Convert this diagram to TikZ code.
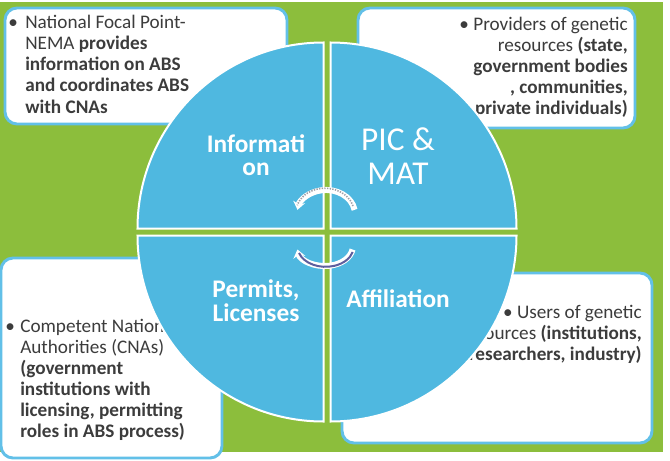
\documentclass[tikz,border=0pt]{standalone}
\usepackage{fontspec}
\setmainfont{Carlito}
\usetikzlibrary{arrows.meta}
\definecolor{leafgreen}{HTML}{8CBE3C}
\definecolor{discblue}{HTML}{4FB8E0}
\definecolor{edgeblue}{HTML}{62C0E8}
\definecolor{inkgray}{HTML}{3C3C3C}
\definecolor{bandgray}{HTML}{A0A0A8}
\definecolor{bandpurple}{HTML}{5E5E9E}

\begin{document}
\begin{tikzpicture}[
  x=0.75pt, y=-0.75pt,
  infobox/.style={draw=edgeblue, line width=2.2pt, fill=white, rounded corners=9pt},
  boxtext/.style={inner sep=0pt, text=inkgray, font=\fontsize{14.4}{15.75}\selectfont},
  quarter/.style={fill=discblue, draw=white, line width=1.5pt},
  quadlabel/.style={inner sep=0pt, text=white, font=\bfseries\fontsize{19}{17.5}\selectfont},
  turnband/.style={draw=white, line width=4.5pt}]
\useasboundingbox (0,0) rectangle (670,460);
\fill[white] (0,0) rectangle (670,460);
\fill[leafgreen] (0,2) rectangle (663,452);

\draw[infobox] (5,8) rectangle (287,124);
\draw[infobox] (358,8) rectangle (635,128);
\draw[infobox] (1,258) rectangle (222,458);
\draw[infobox] (342,273) rectangle (652,443);

\node[boxtext, anchor=base west] (focalDot) at (8,29) {\textbullet};
\node[boxtext, anchor=base west] (focalText) at (25,29)
  {\begin{tabular}[t]{@{}l@{}}National Focal Point-\\NEMA \textbf{provides}\\\textbf{information on ABS}\\\textbf{and coordinates ABS}\\\textbf{with CNAs}\end{tabular}};
\node[boxtext, anchor=base east] (providerText) at (628,31)
  {\begin{tabular}[t]{@{}r@{}}\textbullet\ Providers of genetic\\resources \textbf{(state,}\\\textbf{government bodies}\\\textbf{, communities,}\\\textbf{private individuals)}\end{tabular}};
\node[boxtext, anchor=base west] (authorityDot) at (5,332) {\textbullet};
\node[boxtext, anchor=base west] (authorityText) at (20,332)
  {\begin{tabular}[t]{@{}l@{}}Competent National\\Authorities (CNAs)\\\textbf{(government}\\\textbf{institutions with}\\\textbf{licensing, permitting}\\\textbf{roles in ABS process)}\end{tabular}};
\node[boxtext, anchor=base east] (userText) at (642,318)
  {\begin{tabular}[t]{@{}r@{}}\textbullet\ Users of genetic\\resources \textbf{(institutions,}\\\textbf{researchers, industry)}\end{tabular}};

\draw[quarter] (323.5,228.5) -- ++(-186,0) arc[start angle=180, end angle=270, radius=186] -- cycle;
\draw[quarter] (330.5,228.5) -- ++(0,-186) arc[start angle=270, end angle=360, radius=186] -- cycle;
\draw[quarter] (330.5,235.5) -- ++(186,0) arc[start angle=0, end angle=90, radius=186] -- cycle;
\draw[quarter] (323.5,235.5) -- ++(0,186) arc[start angle=90, end angle=180, radius=186] -- cycle;

\node[quadlabel, anchor=base] (infoLabel) at (256,152)
  {\begin{tabular}[t]{@{}c@{}}Informati\\on\end{tabular}};
\node[quadlabel, anchor=base, font=\fontsize{25}{26}\selectfont] (picLabel) at (398,150)
  {\begin{tabular}[t]{@{}c@{}}PIC \&\\MAT\end{tabular}};
\node[quadlabel, anchor=base] (permitLabel) at (256,297)
  {\begin{tabular}[t]{@{}c@{}}Permits,\\Licenses\end{tabular}};
\node[quadlabel, anchor=base] (affilLabel) at (398,307) {Affiliation};

\draw[turnband, -{Stealth[length=6pt,width=9pt]}] (354.6,209.8) arc[start angle=350, end angle=190, x radius=29, y radius=24];
\draw[bandgray, line width=1.2pt, dash pattern=on 1pt off 1pt] (353,206) arc[start angle=345, end angle=197, x radius=29, y radius=24];
\draw[turnband, {Stealth[length=6pt,width=9pt]}-] (297.4,249.5) arc[start angle=170, end angle=10, x radius=28, y radius=20];
\draw[bandpurple, line width=1.5pt] (299,253) arc[start angle=162, end angle=15, x radius=28, y radius=20];
\end{tikzpicture}
\end{document}
